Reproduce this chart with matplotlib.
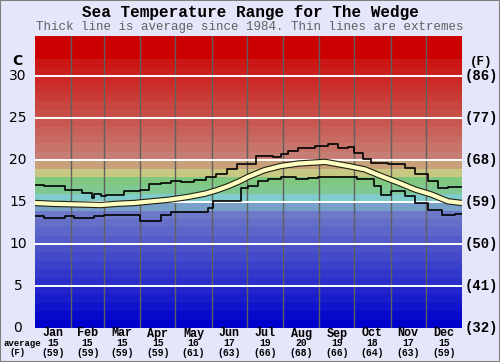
import matplotlib
matplotlib.use("Agg")
import matplotlib.pyplot as plt
import matplotlib.transforms as mtrans
import numpy as np

months = ["Jan", "Feb", "Mar", "Apr", "May", "Jun", "Jul", "Aug", "Sep", "Oct", "Nov", "Dec"]
month_avg_c = [15, 15, 15, 15, 16, 17, 19, 20, 19, 18, 17, 15]
month_avg_f = [59, 59, 59, 59, 61, 63, 66, 68, 66, 64, 63, 59]
month_start = [0, 31, 59, 90, 120, 151, 181, 212, 243, 273, 304, 334, 365]

c_ticks = [0, 5, 10, 15, 20, 25, 30]
f_ticks = [32, 41, 50, 59, 68, 77, 86]

# upper extreme (step, value from day)
hi_days = [0, 7.7, 26, 40, 49, 50.4, 56, 60.5, 67.5, 76, 90, 97.5, 107.5, 116, 124.5, 136, 146,
           154.5, 164, 173, 189, 203.5, 210.5, 216, 225, 239, 250.5, 259, 267.5, 273, 280,
           287.5, 302, 316, 324.5, 336, 344.5, 353, 365]
hi_vals = [17.1, 16.9, 16.4, 16.1, 15.5, 16.0, 15.7, 15.8, 15.9, 16.3, 16.5, 17.2, 17.3, 17.5,
           17.4, 17.6, 18.0, 18.3, 18.9, 19.5, 20.5, 20.4, 20.7, 21.1, 21.5, 21.7, 21.9, 21.5,
           21.6, 20.9, 20.1, 19.7, 19.5, 19.1, 18.3, 17.5, 16.7, 16.8, 16.8]

# lower extreme
lo_days = [0, 7.7, 26, 33, 50.4, 59, 90, 107.5, 116, 147.5, 152, 176, 182, 190.5, 199, 210.5,
           223.5, 233, 241.5, 275.5, 290, 295.5, 304, 316, 324.5, 336, 347.5, 359, 365]
lo_vals = [13.3, 13.1, 13.3, 13.1, 13.3, 13.5, 12.7, 13.5, 13.8, 14.3, 15.1, 16.7, 16.9, 17.5,
           17.7, 18.0, 17.7, 17.9, 18.0, 17.7, 16.9, 15.9, 16.3, 15.7, 14.9, 14.1, 13.5, 13.6, 13.6]

# average
avg_days = [0, 15, 30, 45, 56, 70, 85, 100, 115, 130, 145, 155, 165, 175, 182, 196, 210, 225,
            248, 268, 282, 296, 311, 325, 339, 353, 365]
avg_vals = [14.9, 14.8, 14.75, 14.7, 14.65, 14.8, 14.9, 15.1, 15.3, 15.6, 16.0, 16.4, 16.9, 17.5,
            18.0, 18.8, 19.3, 19.6, 19.8, 19.3, 18.9, 18.1, 17.3, 16.5, 15.9, 15.1, 14.9]

BG = "#e6e6fa"
fig = plt.figure(figsize=(5.0, 3.62), dpi=100, facecolor=BG)
ax = fig.add_axes([35/500, 1-328/362, 427/500, 292/362])
ax.set_xlim(0, 365)
ax.set_ylim(0, 34.8)

# colour bands (1 degree each)
def band_color(t):
    if t >= 32:
        return (204/255, 0, 0)
    if t >= 20:
        f = (32 - t) / 12.0
        return ((204 - 6*f)/255, (12 + 113*f)/255, (12 + 103*f)/255)
    special = {19: (200, 160, 122), 18: (200, 200, 130), 17: (128, 200, 128), 16: (128, 200, 145),
               15: (128, 204, 204), 14: (120, 160, 200)}
    if t in special:
        r, g, b = special[t]
        return (r/255, g/255, b/255)
    f = t / 13.0
    return ((0 + 110*f)/255, (0 + 120*f)/255, (204 - 4*f)/255)

for t in range(0, 35):
    ax.axhspan(t, t+1, color=band_color(t), lw=0, zorder=0)

for d in month_start[1:-1]:
    ax.axvline(d, color="#606060", lw=1.0, zorder=1)
for c in c_ticks[1:]:
    ax.axhline(c, color="white", lw=1.4, zorder=1)

ax.step(hi_days, hi_vals, where="post", color="black", lw=1.2, zorder=3)
ax.step(lo_days, lo_vals, where="post", color="black", lw=1.2, zorder=3)
ax.plot(avg_days, avg_vals, color="#202010", lw=4.6, zorder=4, solid_capstyle="butt")
ax.plot(avg_days, avg_vals, color="#ffffc4", lw=3.0, zorder=5, solid_capstyle="butt")

ax.set_xticks([])
ax.set_yticks([])
for s in ax.spines.values():
    s.set_visible(False)

# y labels
ytr = mtrans.blended_transform_factory(fig.transFigure, ax.transData)
for c, f in zip(c_ticks, f_ticks):
    fig.text(18/500, c, str(c), transform=ytr, ha="center", va="center",
             fontsize=10, family="DejaVu Sans", color="black")
    fig.text(481/500, c, "(%d)" % f, transform=ytr, ha="center", va="center",
             fontsize=10, family="Liberation Mono", weight="bold", color="black")
fig.text(17/500, 1-61/362, "C", ha="center", va="center", fontsize=10,
         family="DejaVu Sans", weight="bold")
fig.text(481/500, 1-62/362, "(F)", ha="center", va="center", fontsize=9,
         family="Liberation Mono", weight="bold")

# month labels
xtr = mtrans.blended_transform_factory(ax.transData, fig.transFigure)
for i, m in enumerate(months):
    mid = (month_start[i] + month_start[i+1]) / 2
    fig.text(mid, 1-333.5/362, m, transform=xtr, ha="center", va="center",
             fontsize=8.5, family="Liberation Mono", weight="bold")
    fig.text(mid, 1-343.5/362, str(month_avg_c[i]), transform=xtr, ha="center", va="center",
             fontsize=7, family="Liberation Mono", weight="bold")
    fig.text(mid, 1-352.5/362, "(%d)" % month_avg_f[i], transform=xtr, ha="center", va="center",
             fontsize=7, family="Liberation Mono", weight="bold")
fig.text(22/500, 1-343.5/362, "average", ha="center", va="center", fontsize=6.5,
         family="Liberation Mono", weight="bold")
fig.text(18/500, 1-352.5/362, "(F)", ha="center", va="center", fontsize=6.5,
         family="Liberation Mono", weight="bold")

fig.text(0.5, 1-12/362, "Sea Temperature Range for The Wedge", ha="center", va="center",
         fontsize=11.5, family="Liberation Mono", weight="bold")
fig.text(0.5, 1-27/362, "Thick line is average since 1984. Thin lines are extremes",
         ha="center", va="center", fontsize=9, family="Liberation Mono", color="#606060")

fig.patches.append(plt.Rectangle((0, 0), 1, 1, transform=fig.transFigure, fill=False,
                                 edgecolor="#808080", lw=1.5))

fig.savefig("out.png", dpi=100, facecolor=BG)
